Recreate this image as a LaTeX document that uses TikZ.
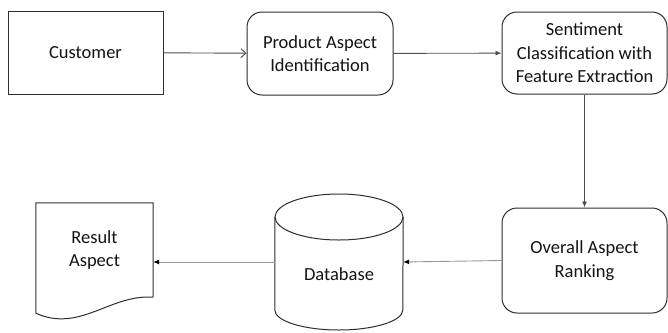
\documentclass[tikz,border=0pt]{standalone}
\usepackage{fontspec}
\setmainfont{Carlito}
\usetikzlibrary{arrows.meta,calc}

\definecolor{edge}{HTML}{2E2E2E}
\definecolor{ink}{HTML}{141414}

\tikzset{
  box/.style={draw=edge, line width=1pt, fill=white, align=center,
    text=ink, font=\fontsize{18.5}{23.5}\selectfont, inner sep=0pt},
  roundbox/.style={box, rounded corners=15pt},
  plain/.style={draw=edge, line width=1pt},
  flow/.style={draw=edge!85, line width=0.9pt, -{Latex[length=6pt,width=5pt]}},
  flowopen/.style={draw=edge!85, line width=0.9pt, -{Straight Barb[length=5pt,width=9pt]}},
  fadeflow/.style={draw=black!40, line width=0.9pt, -{Latex[length=6pt,width=5pt,black]}},
  txt/.style={text=ink, font=\fontsize{18.5}{23.5}\selectfont, align=center},
}

\begin{document}
\begin{tikzpicture}[x=1pt,y=-1pt]
  \useasboundingbox (0,0) rectangle (668,332);

  % top row
  \node[box, minimum width=155pt, minimum height=83pt] (cust) at (85.5,52.5) {Customer};
  \node[roundbox, minimum width=146pt, minimum height=83pt] (prod) at (320,53.5)
    {Product Aspect\\Identification};
  \node[roundbox, minimum width=165pt, minimum height=82pt] (sent) at (584.5,53)
    {Sentiment\\Classification with\\Feature Extraction};

  % bottom row
  \node[roundbox, minimum width=165pt, minimum height=105pt] (over) at (584.5,260.5)
    {Overall Aspect\\Ranking};

  % database cylinder
  \node[minimum width=128pt, minimum height=136pt, inner sep=0pt] (db) at (339,262) {};
  \path[plain, fill=white]
    ($(db.west)+(0,-45)$) -- ($(db.west)+(0,48)$)
    arc[start angle=180, end angle=360, x radius=64, y radius=-20]
    -- ($(db.east)+(0,-45)$);
  \draw[plain] (339,217) ellipse[x radius=64, y radius=23];
  \node[txt] (dbtext) at (339,274) {Database};

  % result document
  \node[txt, minimum width=117pt, minimum height=94pt, inner sep=0pt] (res) at (94.5,250)
    {Result\\Aspect};
  \draw[plain]
    (res.south east) -- (res.north east) -- (res.north west) -- ($(res.south west)+(0,16)$)
    .. controls (80,333) and (110,294) .. (res.south east);

  % connectors
  \draw[flowopen] (cust) -- (prod);
  \draw[flow] (prod) -- (sent);
  \draw[flow] (sent) -- (over);
  \draw[fadeflow] (over.west) -- (db.east);
  \draw[fadeflow] (db.west) -- (db.west -| res.east);
\end{tikzpicture}
\end{document}
